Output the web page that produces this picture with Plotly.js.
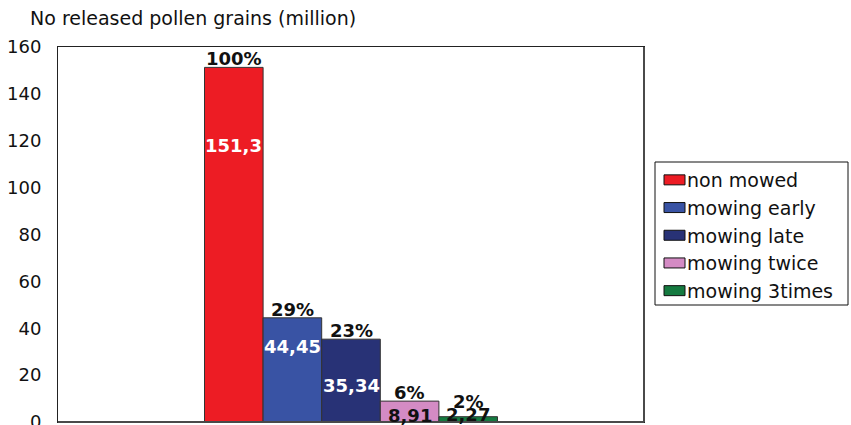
<!DOCTYPE html>
<html><head><meta charset="utf-8">
<script src="https://cdn.plot.ly/plotly-3.0.1.min.js"></script>
<style>html,body{margin:0;padding:0;background:#fff}#chart{width:851px;height:425px}</style>
</head><body><div id="chart"></div>
<script>
const treatments = ["non mowed", "mowing early", "mowing late", "mowing twice", "mowing 3times"];
const pollen = [151.3, 44.45, 35.34, 8.91, 2.27];
const valueLabels = ["151,3", "44,45", "35,34", "8,91", "2,27"];
const percentLabels = ["100%", "29%", "23%", "6%", "2%"];
const colors = ["#ED1C24", "#3953A4", "#283276", "#D48BC4", "#157A40"];
const valueLabelColors = ["#fff", "#fff", "#fff", "#111", "#111"];
const valueLabelShift = [-78, -29, -46, -14, 2];
const percentShift = [9, 8, 9, 9, 15];

const FONT = "DejaVu Sans, Verdana, sans-serif";
const cat = ["g"];
const traces = treatments.map((t, i) => ({
  type: "bar", name: t, x: cat, y: [pollen[i]],
  marker: {color: colors[i], line: {color: "#333", width: 1}},
  hoverinfo: "skip"
}));

// plot area in pixels
const L = 58, R = 644, T = 47, B = 422, W = 851, H = 425;
const px = v => (v - L) / (R - L);
const py = v => (B - v) / (B - T);

const n = treatments.length, groupW = 0.5, bw = groupW / n;
const ann = [];
treatments.forEach((t, i) => {
  const xc = -groupW / 2 + bw * (i + 0.5);
  ann.push({x: xc, y: pollen[i], xref: "x", yref: "y", text: "<b>" + percentLabels[i] + "</b>",
    showarrow: false, yanchor: "middle", yshift: percentShift[i],
    font: {family: FONT, size: 18, color: "#111"}});
  ann.push({x: xc, y: pollen[i], xref: "x", yref: "y", text: "<b>" + valueLabels[i] + "</b>",
    showarrow: false, yanchor: "middle", yshift: valueLabelShift[i],
    font: {family: FONT, size: 18, color: valueLabelColors[i]}});
});

const layout = {
  width: W, height: H,
  margin: {l: L, r: W - R, t: T, b: H - B},
  paper_bgcolor: "#fff", plot_bgcolor: "#fff",
  barmode: "group", bargap: 0.5, bargroupgap: 0,
  showlegend: true,
  title: {text: "No released pollen grains (million)", x: 30 / W, xref: "container", xanchor: "left",
    y: 1 - 18 / H, yref: "container", yanchor: "middle",
    font: {family: FONT, size: 19, color: "#111"}},
  xaxis: {type: "category", range: [-0.5, 0.5], showticklabels: false, ticks: "",
    showline: true, linecolor: "#222", linewidth: 1, mirror: true, showgrid: false, zeroline: false, fixedrange: true},
  yaxis: {range: [0, 160], dtick: 20, tick0: 0, showgrid: false, zeroline: false,
    showline: true, linecolor: "#222", linewidth: 1, mirror: true, ticks: "", ticklabelstandoff: 12,
    ticklabeloverflow: "allow",
    tickfont: {family: FONT, size: 18, color: "#111"}},
  legend: {x: px(647), xanchor: "left", y: py(161), yanchor: "top",
    bgcolor: "rgba(0,0,0,0)", borderwidth: 0, traceorder: "normal",
    font: {family: FONT, size: 19, color: "#111"}},
  shapes: [
    {type: "rect", xref: "paper", yref: "paper", x0: px(655), x1: px(848), y0: py(305), y1: py(162),
      line: {color: "#111", width: 1}, fillcolor: "rgba(0,0,0,0)", layer: "below"},
    {type: "line", xref: "paper", yref: "paper", x0: 1, x1: 1, y0: 0, y1: 1, line: {color: "#4a4a4a", width: 2}},
    {type: "line", xref: "paper", yref: "paper", x0: 0, x1: 1, y0: 0, y1: 0, line: {color: "#4a4a4a", width: 2}}
  ],
  annotations: ann,
  font: {family: FONT}
};
Plotly.newPlot("chart", traces, layout, {staticPlot: true}).then(gd => {
  // legend swatches as wide outlined rectangles like the original
  gd.querySelectorAll(".legend .legendpoints path").forEach(p => {
    p.setAttribute("d", "M-3,-5H18V5H-3Z");
    p.style.stroke = "#111";
    p.style.strokeWidth = "1px";
  });
});
</script></body></html>
